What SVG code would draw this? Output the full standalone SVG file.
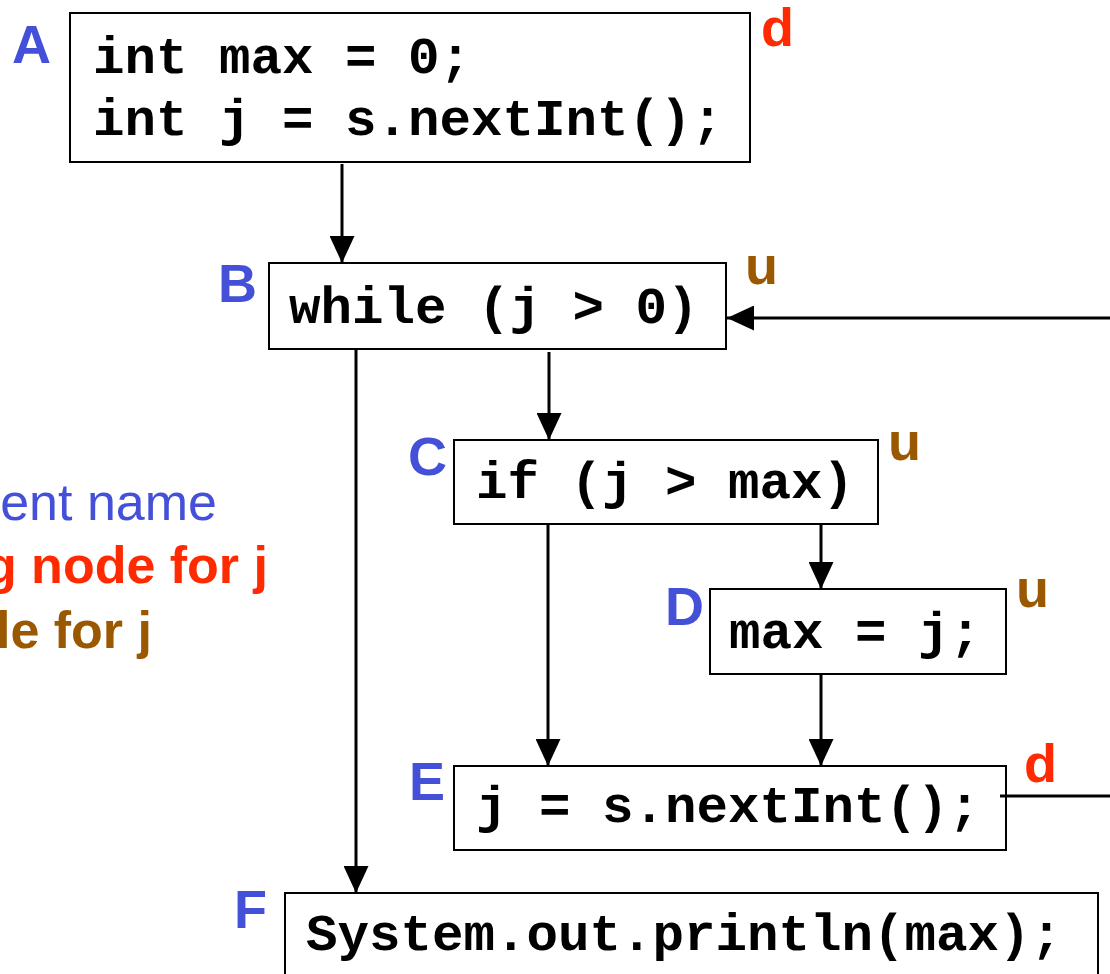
<svg xmlns="http://www.w3.org/2000/svg" width="1110" height="974" viewBox="0 0 1110 974">
<defs>
<style>
.box{fill:#fff;stroke:#000;stroke-width:2}
.code{font-family:"Liberation Mono","Courier New",monospace;font-weight:bold;font-size:52.5px;fill:#000}
.lbl{font-family:"Liberation Sans",Arial,sans-serif;font-weight:bold;font-size:54px;fill:#4550D8}
.d{font-family:"Liberation Sans",Arial,sans-serif;font-weight:bold;font-size:54px;fill:#FF2A00}
.u{font-family:"Liberation Sans",Arial,sans-serif;font-weight:bold;font-size:54px;fill:#9A5800}
.edge{stroke:#000;stroke-width:3;fill:none}
</style>
<marker id="ah" viewBox="0 0 27 25" refX="27" refY="12.5" markerWidth="27" markerHeight="25" markerUnits="userSpaceOnUse" orient="auto">
<path d="M0,0 L27,12.5 L0,25 Z" fill="#000"/>
</marker>
</defs>
<rect width="1110" height="974" fill="#fff"/>
<g id="legend">
<text x="217" y="520" text-anchor="end" font-family="Liberation Sans, Arial, sans-serif" font-size="52" fill="#4550D8">ent name</text>
<text x="268" y="583" text-anchor="end" font-family="Liberation Sans, Arial, sans-serif" font-weight="bold" font-size="52" fill="#FF2A00">g node for j</text>
<text x="152" y="648" text-anchor="end" font-family="Liberation Sans, Arial, sans-serif" font-weight="bold" font-size="52" fill="#9A5800">le for j</text>
</g>
<g id="connectors">
<line class="edge" x1="342" y1="164" x2="342" y2="263" marker-end="url(#ah)"/>
<line class="edge" x1="1110" y1="318" x2="727" y2="318" marker-end="url(#ah)"/>
<line class="edge" x1="356" y1="349" x2="356" y2="893" marker-end="url(#ah)"/>
<line class="edge" x1="549" y1="352" x2="549" y2="440" marker-end="url(#ah)"/>
<line class="edge" x1="548" y1="524" x2="548" y2="766" marker-end="url(#ah)"/>
<line class="edge" x1="821" y1="524" x2="821" y2="589" marker-end="url(#ah)"/>
<line class="edge" x1="821" y1="672" x2="821" y2="766" marker-end="url(#ah)"/>
</g>
<g id="nodeA">
<rect class="box" x="70" y="13" width="680" height="149"/>
<text class="code" x="93" y="73">int max = 0;</text>
<text class="code" x="93" y="135">int j = s.nextInt();</text>
<text class="lbl" x="12" y="63">A</text>
<text class="d" x="761" y="46">d</text>
</g>
<g id="nodeB">
<rect class="box" x="269" y="263" width="457" height="86"/>
<text class="code" x="289" y="323">while (j &gt; 0)</text>
<text class="lbl" x="218" y="302">B</text>
<text class="u" x="745" y="284">u</text>
</g>
<g id="nodeC">
<rect class="box" x="454" y="440" width="424" height="84"/>
<text class="code" x="476" y="498">if (j &gt; max)</text>
<text class="lbl" x="408" y="475">C</text>
<text class="u" x="888" y="460">u</text>
</g>
<g id="nodeD">
<rect class="box" x="710" y="589" width="296" height="85"/>
<text class="code" x="729" y="648">max = j;</text>
<text class="lbl" x="665" y="625">D</text>
<text class="u" x="1016" y="607">u</text>
</g>
<g id="nodeE">
<rect class="box" x="454" y="766" width="552" height="84"/>
<text class="code" x="476" y="822">j = s.nextInt();</text>
<text class="lbl" x="409" y="800">E</text>
<text class="d" x="1024" y="782">d</text>
<line class="edge" x1="1000" y1="796" x2="1110" y2="796"/>
</g>
<g id="nodeF">
<rect class="box" x="285" y="893" width="813" height="100"/>
<text class="code" x="306" y="950">System.out.println(max);</text>
<text class="lbl" x="234" y="928">F</text>
</g>
</svg>
